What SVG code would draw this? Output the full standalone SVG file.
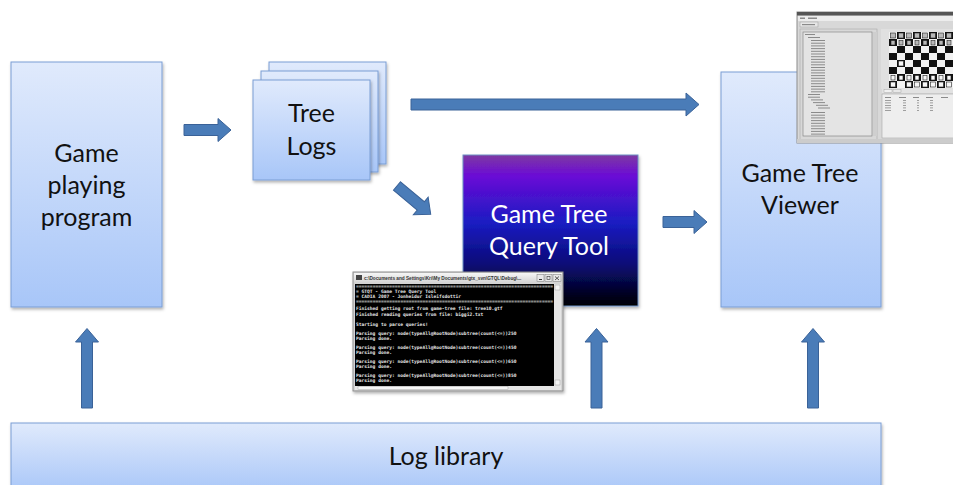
<svg xmlns="http://www.w3.org/2000/svg" width="953" height="485" viewBox="0 0 953 485">
  <defs>
    <linearGradient id="boxFill" x1="0" y1="0" x2="0" y2="1">
      <stop offset="0" stop-color="#e0eafc"/>
      <stop offset="1" stop-color="#a8c6f8"/>
    </linearGradient>
    <linearGradient id="queryFill" x1="0" y1="0" x2="0" y2="1">
      <stop offset="0" stop-color="#7e3aa2"/>
      <stop offset="0.14" stop-color="#6a0ad6"/>
      <stop offset="0.45" stop-color="#1a1cc2"/>
      <stop offset="0.72" stop-color="#0a0b78"/>
      <stop offset="1" stop-color="#000000"/>
    </linearGradient>
    <linearGradient id="titleFill" x1="0" y1="0" x2="0" y2="1">
      <stop offset="0" stop-color="#f6f6f6"/>
      <stop offset="1" stop-color="#d2d2d2"/>
    </linearGradient>
    <filter id="shadow" x="-10%" y="-10%" width="125%" height="125%">
      <feDropShadow dx="1" dy="2" stdDeviation="1.5" flood-color="#000" flood-opacity="0.3"/>
    </filter>
    <clipPath id="titleClip">
      <rect x="363" y="273" width="172" height="10"/>
    </clipPath>
  </defs>
  <style>
    .box { fill: url(#boxFill); stroke: #7a9ed4; stroke-width: 1; filter: url(#shadow); }
    .label { font-family: Lato, "Open Sans", "Liberation Sans", sans-serif; font-size: 25px; fill: #111; text-anchor: middle; }
    .qlabel { font-family: Lato, "Open Sans", "Liberation Sans", sans-serif; font-size: 25px; fill: #ffffff; text-anchor: middle; }
    .arrow { fill: #4a7cb8; stroke: #3a6298; stroke-width: 1; }
    .con { font-family: "DejaVu Sans Mono", "Liberation Mono", monospace; font-size: 4.6px; font-weight: bold; fill: #e6e6e6; }
    .tline { fill: #8a8a8a; }
  </style>

  <!-- Game playing program -->
  <g id="game-playing-program">
    <rect class="box" x="11" y="62" width="151" height="245"/>
    <text class="label" x="86.5" y="162">Game</text>
    <text class="label" x="86.5" y="194">playing</text>
    <text class="label" x="86.5" y="226">program</text>
  </g>

  <!-- Tree Logs: stack of three pages -->
  <g id="tree-logs">
    <rect class="box" x="269" y="62" width="117" height="102"/>
    <rect class="box" x="261" y="71" width="117" height="101"/>
    <rect class="box" x="253" y="80" width="117" height="100"/>
    <text class="label" x="311.5" y="122">Tree</text>
    <text class="label" x="311.5" y="155">Logs</text>
  </g>

  <!-- Game Tree Query Tool -->
  <g id="query-tool">
    <rect x="463" y="155" width="175" height="151" fill="url(#queryFill)" stroke="#6d8fc4" stroke-width="1" filter="url(#shadow)"/>
    <text class="qlabel" x="549" y="223">Game Tree</text>
    <text class="qlabel" x="549" y="255">Query Tool</text>
  </g>

  <!-- Game Tree Viewer -->
  <g id="tree-viewer">
    <rect class="box" x="721" y="72" width="160" height="235"/>
    <text class="label" x="800" y="182">Game Tree</text>
    <text class="label" x="800" y="214">Viewer</text>
  </g>

  <!-- Log library -->
  <g id="log-library">
    <rect class="box" x="11" y="423" width="870" height="70"/>
    <text class="label" x="446" y="465">Log library</text>
  </g>

  <!-- Connectors -->
  <g id="connectors">
    <path class="arrow" d="M184,124.5 H218 V118.5 L231,130 L218,141.5 V135.5 H184 Z"/>
    <path class="arrow" d="M411,99 H686 V93 L699,104.5 L686,116 V110 H411 Z"/>
    <path class="arrow" d="M663,216.5 H694 V210.5 L707,222 L694,233.5 V227.5 H663 Z"/>
    <path class="arrow" transform="translate(397,186) rotate(40)" d="M0,-5.5 H31 V-11.5 L44,0 L31,11.5 V5.5 H0 Z"/>
    <path class="arrow" d="M81.5,408 V342 H75.5 L87,328.5 L98.5,342 H92.5 V408 Z"/>
    <path class="arrow" d="M591,408 V342 H585 L596.5,328.5 L608,342 H602 V408 Z"/>
    <path class="arrow" d="M807.5,408 V342 H801.5 L813,328.5 L824.5,342 H818.5 V408 Z"/>
  </g>

  <!-- Screenshot of the tree viewer window -->
  <g id="viewer-screenshot">
    <rect x="797" y="12" width="160" height="131" fill="#d8d8d8" stroke="#8c8c8c" stroke-width="1"/>
    <rect x="797" y="12" width="160" height="3.5" fill="#555"/>
    <rect x="798" y="16" width="158" height="5" fill="#ececec"/>
    <rect x="800" y="17.5" width="5" height="1.5" class="tline"/>
    <rect x="808" y="17.5" width="9" height="1.5" class="tline"/>
    <rect x="800" y="22" width="18" height="5" fill="#e6e6e6" stroke="#9a9a9a" stroke-width="0.5"/>
    <rect x="802" y="24" width="13" height="1.2" class="tline"/>
    <!-- tree panel -->
    <rect x="800" y="29" width="77" height="111" fill="none" stroke="#a8a8a8" stroke-width="0.6"/>
    <rect x="803" y="32" width="69" height="104" fill="#e4e4e4" stroke="#7a7a7a" stroke-width="0.6"/>
    <rect x="873" y="32" width="4" height="104" fill="#cfcfcf"/>
    <g class="tline">
      <rect x="805" y="34" width="10" height="1"/>
      <rect x="808" y="37" width="12" height="1"/>
      <rect x="811" y="40" width="14" height="1"/>
      <rect x="811" y="42.7" width="14" height="1"/>
      <rect x="811" y="45.4" width="14" height="1"/>
      <rect x="811" y="48.1" width="14" height="1"/>
      <rect x="811" y="50.8" width="14" height="1"/>
      <rect x="811" y="53.5" width="14" height="1"/>
      <rect x="811" y="56.2" width="14" height="1"/>
      <rect x="811" y="58.9" width="14" height="1"/>
      <rect x="811" y="61.6" width="14" height="1"/>
      <rect x="811" y="64.3" width="14" height="1"/>
      <rect x="811" y="67" width="14" height="1"/>
      <rect x="811" y="69.7" width="14" height="1"/>
      <rect x="811" y="72.4" width="14" height="1"/>
      <rect x="811" y="75.1" width="14" height="1"/>
      <rect x="811" y="77.8" width="14" height="1"/>
      <rect x="811" y="80.5" width="14" height="1"/>
      <rect x="811" y="83.2" width="14" height="1"/>
      <rect x="811" y="85.9" width="14" height="1"/>
      <rect x="811" y="88.6" width="14" height="1"/>
      <rect x="811" y="91.3" width="14" height="1"/>
      <rect x="808" y="94" width="12" height="1"/>
      <rect x="808" y="96.7" width="12" height="1"/>
      <rect x="811" y="99.4" width="12" height="1"/>
      <rect x="813" y="102.1" width="12" height="1"/>
      <rect x="816" y="104.8" width="12" height="1"/>
      <rect x="818" y="107.5" width="12" height="1"/>
      <rect x="811" y="112" width="14" height="1"/>
      <rect x="811" y="114.7" width="14" height="1"/>
      <rect x="811" y="117.4" width="14" height="1"/>
      <rect x="811" y="120.1" width="14" height="1"/>
      <rect x="811" y="122.8" width="14" height="1"/>
      <rect x="811" y="125.5" width="14" height="1"/>
      <rect x="811" y="128.2" width="14" height="1"/>
      <rect x="811" y="130.9" width="14" height="1"/>
      <rect x="811" y="133.6" width="14" height="1"/>
    </g>
    <!-- chess board -->
    <rect x="881" y="29" width="76" height="60" fill="#e0e0e0"/>
    <g id="board">
      <rect x="889" y="32" width="64" height="56" fill="#f2f2f2"/>
      <g fill="#111">
        <rect x="897" y="32" width="8" height="7"/><rect x="913" y="32" width="8" height="7"/><rect x="929" y="32" width="8" height="7"/><rect x="945" y="32" width="8" height="7"/>
        <rect x="889" y="39" width="8" height="7"/><rect x="905" y="39" width="8" height="7"/><rect x="921" y="39" width="8" height="7"/><rect x="937" y="39" width="8" height="7"/>
        <rect x="897" y="46" width="8" height="7"/><rect x="913" y="46" width="8" height="7"/><rect x="929" y="46" width="8" height="7"/><rect x="945" y="46" width="8" height="7"/>
        <rect x="889" y="53" width="8" height="7"/><rect x="905" y="53" width="8" height="7"/><rect x="921" y="53" width="8" height="7"/><rect x="937" y="53" width="8" height="7"/>
        <rect x="897" y="60" width="8" height="7"/><rect x="913" y="60" width="8" height="7"/><rect x="929" y="60" width="8" height="7"/><rect x="945" y="60" width="8" height="7"/>
        <rect x="889" y="67" width="8" height="7"/><rect x="905" y="67" width="8" height="7"/><rect x="921" y="67" width="8" height="7"/><rect x="937" y="67" width="8" height="7"/>
        <rect x="897" y="74" width="8" height="7"/><rect x="913" y="74" width="8" height="7"/><rect x="929" y="74" width="8" height="7"/><rect x="945" y="74" width="8" height="7"/>
        <rect x="889" y="81" width="8" height="7"/><rect x="905" y="81" width="8" height="7"/><rect x="921" y="81" width="8" height="7"/><rect x="937" y="81" width="8" height="7"/>
      </g>
      <!-- pieces -->
      <g fill="#b8b8b8" stroke="#222" stroke-width="0.6">
        <rect x="890.5" y="33" width="5" height="5"/><rect x="898.5" y="33" width="5" height="5"/><rect x="906.5" y="33" width="5" height="5"/><rect x="914.5" y="33" width="5" height="5"/>
        <rect x="922.5" y="33" width="5" height="5"/><rect x="930.5" y="33" width="5" height="5"/><rect x="938.5" y="33" width="5" height="5"/><rect x="946.5" y="33" width="5" height="5"/>
        <rect x="891" y="40.5" width="4" height="4.5"/><rect x="899" y="40.5" width="4" height="4.5"/><rect x="907" y="40.5" width="4" height="4.5"/><rect x="915" y="40.5" width="4" height="4.5"/>
        <rect x="923" y="40.5" width="4" height="4.5"/><rect x="931" y="40.5" width="4" height="4.5"/><rect x="939" y="40.5" width="4" height="4.5"/><rect x="947" y="40.5" width="4" height="4.5"/>
      </g>
      <g fill="#f6f6f6" stroke="#222" stroke-width="0.6">
        <rect x="898.5" y="61" width="5" height="5"/>
        <rect x="891" y="75.5" width="4" height="4.5"/><rect x="899" y="75.5" width="4" height="4.5"/><rect x="907" y="75.5" width="4" height="4.5"/><rect x="915" y="75.5" width="4" height="4.5"/>
        <rect x="923" y="75.5" width="4" height="4.5"/><rect x="931" y="75.5" width="4" height="4.5"/><rect x="939" y="75.5" width="4" height="4.5"/><rect x="947" y="75.5" width="4" height="4.5"/>
        <rect x="890.5" y="82" width="5" height="5"/><rect x="906.5" y="82" width="5" height="5"/><rect x="914.5" y="82" width="5" height="5"/>
        <rect x="922.5" y="82" width="5" height="5"/><rect x="930.5" y="82" width="5" height="5"/><rect x="938.5" y="82" width="5" height="5"/><rect x="946.5" y="82" width="5" height="5"/>
      </g>
    </g>
    <!-- lower info panel -->
    <rect x="882" y="89" width="75" height="4" fill="#e2e2e2"/>
    <rect x="884" y="89.5" width="8" height="3" fill="#f0f0f0" stroke="#999" stroke-width="0.4"/>
    <rect x="893" y="89.5" width="8" height="3" fill="#e8e8e8" stroke="#999" stroke-width="0.4"/>
    <rect x="882" y="94" width="75" height="44" fill="#eeeeee" stroke="#9a9a9a" stroke-width="0.5"/>
    <g class="tline">
      <rect x="885" y="97" width="6" height="1"/><rect x="899" y="97" width="7" height="1"/><rect x="913" y="97" width="6" height="1"/><rect x="926" y="97" width="7" height="1"/><rect x="941" y="97" width="7" height="1"/>
      <rect x="885" y="100" width="6" height="0.8"/><rect x="903" y="100" width="3" height="0.8"/><rect x="917" y="100" width="2" height="0.8"/><rect x="930" y="100" width="3" height="0.8"/>
      <rect x="885" y="102.5" width="6" height="0.8"/><rect x="903" y="102.5" width="3" height="0.8"/><rect x="917" y="102.5" width="2" height="0.8"/><rect x="930" y="102.5" width="3" height="0.8"/>
      <rect x="885" y="105" width="6" height="0.8"/><rect x="903" y="105" width="3" height="0.8"/><rect x="917" y="105" width="2" height="0.8"/><rect x="930" y="105" width="3" height="0.8"/>
      <rect x="885" y="107.5" width="6" height="0.8"/><rect x="903" y="107.5" width="3" height="0.8"/><rect x="917" y="107.5" width="2" height="0.8"/><rect x="930" y="107.5" width="3" height="0.8"/>
      <rect x="885" y="110" width="6" height="0.8"/><rect x="903" y="110" width="3" height="0.8"/><rect x="917" y="110" width="2" height="0.8"/><rect x="930" y="110" width="3" height="0.8"/>
    </g>
    <rect x="797" y="139" width="160" height="4" fill="#cccccc"/>
  </g>

  <!-- Console window of the query tool -->
  <g id="console-screenshot">
    <rect x="353" y="272" width="210" height="119" fill="#d4d4d4" stroke="#8e8e8e" stroke-width="1" filter="url(#shadow)"/>
    <rect x="354" y="273" width="208" height="10" fill="url(#titleFill)"/>
    <rect x="356" y="275" width="6" height="5" fill="#444"/>
    <text x="364" y="280" clip-path="url(#titleClip)" font-family="Liberation Sans, sans-serif" font-size="4.7" font-weight="bold" fill="#333">c:\Documents and Settings\Kri\My Documents\gtx_svn\GTQL\Debug\...</text>
    <rect x="537" y="274.5" width="7" height="7" fill="#e8e8e8" stroke="#777" stroke-width="0.5"/>
    <rect x="545" y="274.5" width="7" height="7" fill="#e8e8e8" stroke="#777" stroke-width="0.5"/>
    <rect x="553" y="274.5" width="8" height="7" fill="#e8e8e8" stroke="#777" stroke-width="0.5"/>
    <rect x="539" y="279" width="3" height="1" fill="#333"/>
    <rect x="547" y="276.5" width="3" height="3" fill="none" stroke="#333" stroke-width="0.6"/>
    <path d="M555,276.5 L559,280 M559,276.5 L555,280" stroke="#333" stroke-width="0.8"/>
    <rect x="355" y="284" width="199" height="102" fill="#000"/>
    <rect x="554" y="284" width="7" height="102" fill="#e6e6e6"/>
    <rect x="555" y="285" width="5" height="5" fill="#f4f4f4" stroke="#888" stroke-width="0.4"/>
    <rect x="555" y="380" width="5" height="5" fill="#f4f4f4" stroke="#888" stroke-width="0.4"/>
    <rect x="355" y="386" width="206" height="4" fill="#e6e6e6"/>
    <rect x="358" y="386.5" width="150" height="3" fill="#f6f6f6" stroke="#999" stroke-width="0.4"/>
    <g class="con">
      <text x="356" y="287.5" textLength="197" lengthAdjust="spacingAndGlyphs">=======================================================================</text>
      <text x="356" y="292.5">= GTQT - Game Tree Query Tool</text>
      <text x="356" y="297.5">= CADIA 2007 - Jonheidur Isleifsdottir</text>
      <text x="356" y="302.5" textLength="197" lengthAdjust="spacingAndGlyphs">=======================================================================</text>
      <text x="356" y="310">Finished getting root from game-tree file: tree10.gtf</text>
      <text x="356" y="315.5">Finished reading queries from file: biggi2.txt</text>
      <text x="356" y="326">Starting to parse queries!</text>
      <text x="356" y="335">Parsing query: node(typeAll@RootNode)subtree(count(&lt;=))250</text>
      <text x="356" y="339.5">Parsing done.</text>
      <text x="356" y="349">Parsing query: node(typeAll@RootNode)subtree(count(&lt;=))450</text>
      <text x="356" y="353.5">Parsing done.</text>
      <text x="356" y="363">Parsing query: node(typeAll@RootNode)subtree(count(&lt;=))650</text>
      <text x="356" y="367.5">Parsing done.</text>
      <text x="356" y="377">Parsing query: node(typeAll@RootNode)subtree(count(&lt;=))850</text>
      <text x="356" y="381.5">Parsing done.</text>
    </g>
  </g>
</svg>
